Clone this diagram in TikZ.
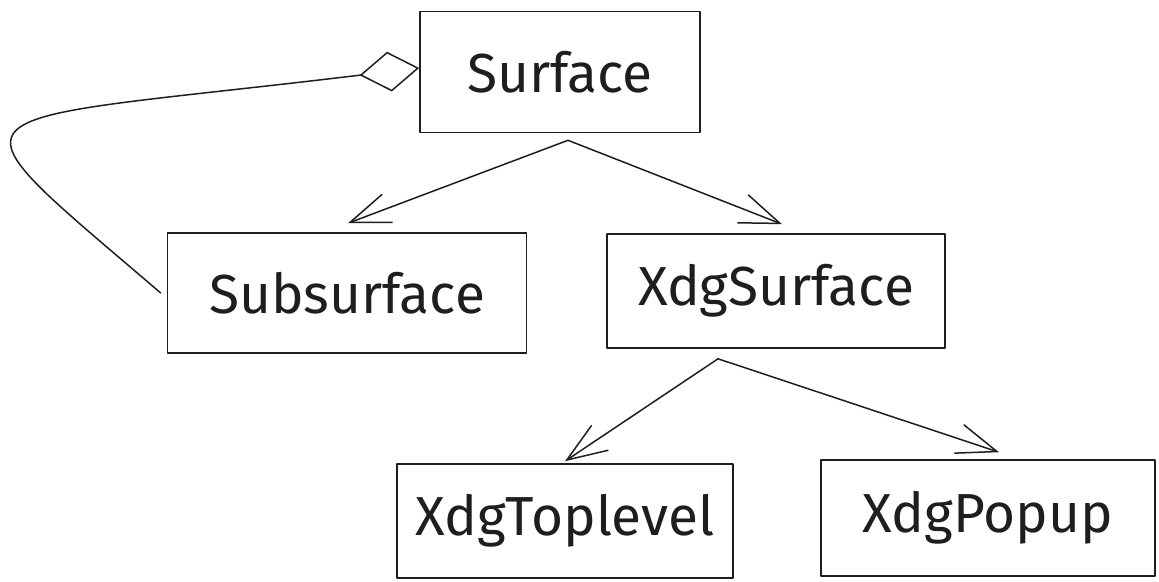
\documentclass[tikz,border=0pt]{standalone}
\usepackage{fontspec}
\setmainfont{Fira Sans}
\usetikzlibrary{arrows.meta}

\definecolor{ink}{HTML}{1E1E1E}

\tikzset{
  box/.style={draw=ink, text=ink, line width=1.6pt, line join=round, inner sep=0pt,
    font=\fontsize{55}{62}\selectfont},
  inherit/.style={draw=ink, line width=1.5pt, line cap=round,
    -{Straight Barb[length=40pt,width=30pt,line width=1.5pt]}},
  aggregate/.style={draw=ink, line width=1.5pt, line cap=round,
    -{Diamond[open,length=60pt,width=40pt,line width=1.5pt]}}
}

\begin{document}
\begin{tikzpicture}[x=1pt,y=-1pt]

\useasboundingbox (0,0) rectangle (1159,581);

% Boxes
\node[box, minimum width=280pt, minimum height=121pt] (surface) at (560,72) {Surface};
\node[box, minimum width=359pt, minimum height=120pt] (subsurface) at (347,293) {Subsurface};
\node[box, minimum width=338pt, minimum height=114pt] (xdgsurface) at (776,291) {XdgSurface};
\node[box, minimum width=336pt, minimum height=114pt] (xdgtoplevel) at (565,521) {XdgToplevel};
\node[box, minimum width=334pt, minimum height=116pt] (xdgpopup) at (988,518) {XdgPopup};

% Inheritance
\coordinate (fork1) at ([xshift=8pt,yshift=-7pt]surface.south);
\coordinate (fork2) at ([xshift=-58pt,yshift=-10pt]xdgsurface.south);
\draw[inherit] (fork1) -- ([xshift=1pt,yshift=9pt]subsurface.north);
\draw[inherit] (fork1) -- ([xshift=6pt,yshift=9pt]xdgsurface.north);
\draw[inherit] (fork2) -- ([yshift=2pt]xdgtoplevel.north);
\draw[inherit] (fork2) -- ([xshift=11pt,yshift=7pt]xdgpopup.north);

% Aggregation
\draw[aggregate] ([xshift=-6pt]subsurface.west)
  .. controls (-68,97) and (-61,126) .. ([yshift=4pt]surface.west);

\end{tikzpicture}
\end{document}
